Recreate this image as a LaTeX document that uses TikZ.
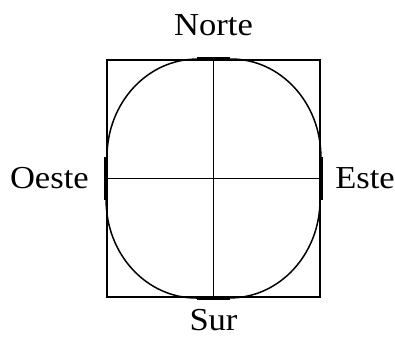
\documentclass[tikz,border=0pt]{standalone}
\usepackage{fontspec}
\setmainfont{Liberation Serif}[FakeStretch=1.08]
\usetikzlibrary{positioning}

\begin{document}
\begin{tikzpicture}[
    x=0.5pt, y=-0.5pt,
    label/.style={inner sep=0pt, font=\fontsize{16}{19}\selectfont},
    edge/.style={line width=0.9pt},
    curve/.style={line width=0.75pt},
    touch/.style={line width=2pt},
]
\useasboundingbox (0,0) rectangle (395,338);
% frame and the round outline inside it
\node[draw, edge, minimum width=106.5pt, minimum height=118.5pt, inner sep=0pt] (box) at (213.5,178.5) {};
\draw[curve] ([xshift=-8.25pt]box.north)
    arc [start angle=90, end angle=180, x radius=45pt, y radius=49pt]
    -- ([yshift=-10.75pt]box.west)
    arc [start angle=180, end angle=270, x radius=45pt, y radius=49pt]
    -- ([xshift=8.25pt]box.south)
    arc [start angle=270, end angle=360, x radius=45pt, y radius=49pt]
    -- ([yshift=10.75pt]box.east)
    arc [start angle=0, end angle=90, x radius=45pt, y radius=49pt]
    -- cycle;
\draw[edge] (box.north) -- (box.south);
\draw[edge] (box.west) -- (box.east);
% where the outline meets the frame
\draw[touch] ([xshift=-8.25pt]box.north) -- ([xshift=8.25pt]box.north);
\draw[touch] ([xshift=-8.25pt]box.south) -- ([xshift=8.25pt]box.south);
\draw[touch] ([yshift=-10.75pt]box.west) -- ([yshift=10.75pt]box.west);
\draw[touch] ([yshift=-10.75pt]box.east) -- ([yshift=10.75pt]box.east);
% points
\node[label, above=11.5pt of box.north] (norte) {Norte};
\node[label, below=5.5pt of box.south] (sur) {Sur};
\node[label, left=8.5pt of box.west] (oeste) {Oeste};
\node[label, right=7pt of box.east] (este) {Este};
\end{tikzpicture}
\end{document}
